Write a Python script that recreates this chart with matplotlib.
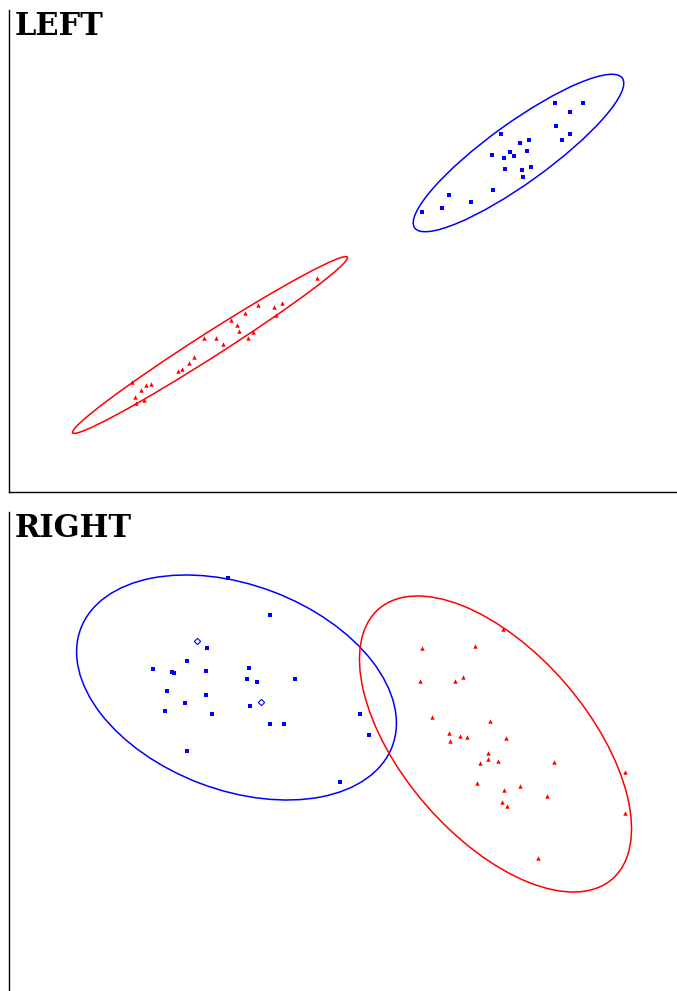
import matplotlib
matplotlib.use("Agg")
import matplotlib.pyplot as plt
from matplotlib.patches import Ellipse

# LEFT panel data (arbitrary units)
left_blue_x = [546, 574, 561, 547, 561, 553, 492, 511, 520, 501, 505, 518, 483, 495,
               496, 513, 522, 514, 484, 440, 433, 462, 413]
left_blue_y = [389, 389, 380, 366, 358, 352, 358, 349, 352, 340, 336, 341, 337, 334,
               323, 322, 325, 315, 302, 297, 284, 290, 280]
left_red_x = [308, 249, 265, 273, 267, 236, 222, 228, 230, 244, 239, 195, 207, 214,
              185, 180, 173, 169, 123, 137, 142, 132, 126, 135, 127]
left_red_y = [214, 187, 185, 189, 177, 179, 172, 167, 161, 160, 154, 154, 154, 148,
              135, 129, 123, 121, 110, 107, 108, 102, 95, 92, 89]
# ellipses: centre x, centre y, width, height, angle
left_blue_ell = [509, 339, 256, 60, 35.8]
left_red_ell = [200.5, 147, 326, 24, 32.6]

# RIGHT panel data
right_blue_x = [219, 261, 198, 178, 144, 163, 165, 197, 240, 238, 248, 286, 158, 197,
                176, 156, 203, 241, 261, 275, 351, 360, 178, 331]
right_blue_y = [413, 376, 343, 330, 322, 319, 318, 320, 323, 312, 309, 312, 300, 296,
                288, 280, 277, 285, 267, 267, 277, 256, 240, 209]
right_blue_open_x = [188, 252]
right_blue_open_y = [350, 289]
right_red_x = [413, 466, 494, 411, 446, 454, 423, 481, 440, 451, 458, 441, 497, 479,
               479, 489, 471, 545, 616, 468, 511, 495, 538, 493, 498, 616, 529]
right_red_y = [343, 345, 362, 310, 310, 314, 274, 270, 258, 255, 254, 250, 253, 238,
               232, 230, 228, 229, 219, 208, 205, 201, 195, 189, 185, 178, 133]
right_blue_ell = [227, 303.5, 333, 205, -20.7]
right_red_ell = [486, 247, 357, 185, -49.2]

BLUE = "#0000ff"
RED = "#ff0000"

fig = plt.figure(figsize=(6.77, 9.91), dpi=100)
ax1 = fig.add_axes([0.01403, 0.50353, 0.98597, 0.48638])
ax2 = fig.add_axes([0.01403, -0.003027, 0.98597, 0.48638])


def draw_ellipse(ax, p, color):
    e = Ellipse((p[0], p[1]), p[2], p[3], angle=p[4], fill=False,
                edgecolor=color, linewidth=1.1)
    ax.add_patch(e)


# top panel
ax1.plot(left_blue_x, left_blue_y, "s", color=BLUE, markersize=3.0, markeredgewidth=0)
ax1.plot(left_red_x, left_red_y, "^", color=RED, markersize=3.2, markeredgewidth=0)
draw_ellipse(ax1, left_blue_ell, BLUE)
draw_ellipse(ax1, left_red_ell, RED)
ax1.set_xlim(0, 667.5)
ax1.set_ylim(0, 482)

# bottom panel
ax2.plot(right_blue_x, right_blue_y, "s", color=BLUE, markersize=3.0, markeredgewidth=0)
ax2.plot(right_blue_open_x, right_blue_open_y, "D", markerfacecolor="white",
         markeredgecolor=BLUE, markersize=3.2, markeredgewidth=0.8)
ax2.plot(right_red_x, right_red_y, "^", color=RED, markersize=3.2, markeredgewidth=0)
draw_ellipse(ax2, right_blue_ell, BLUE)
draw_ellipse(ax2, right_red_ell, RED)
ax2.set_xlim(0, 667.5)
ax2.set_ylim(-3, 479)

for ax, title in [(ax1, "LEFT"), (ax2, "RIGHT")]:
    ax.set_xticks([])
    ax.set_yticks([])
    ax.spines["top"].set_visible(False)
    ax.spines["right"].set_visible(False)
    ax.spines["left"].set_linewidth(1.0)
    ax.spines["bottom"].set_linewidth(1.0)
    ax.text(0.008, 0.997, title, transform=ax.transAxes, ha="left", va="top",
            fontsize=22, fontweight="bold", family="DejaVu Serif")

fig.savefig("out.png", dpi=100)
